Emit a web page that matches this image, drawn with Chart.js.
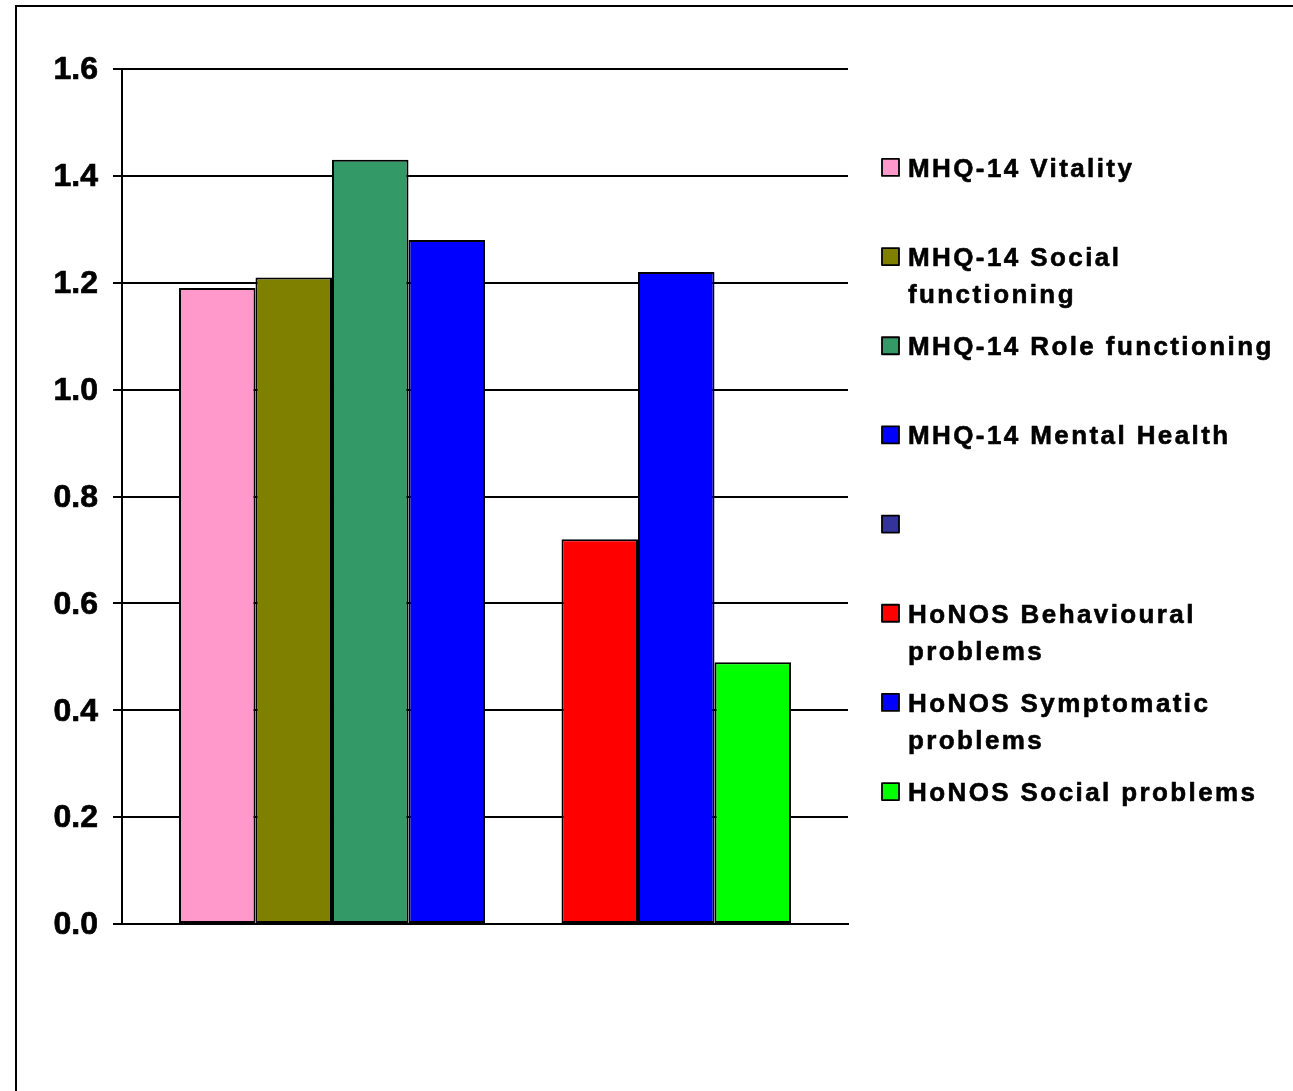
<!DOCTYPE html>
<html>
<head>
<meta charset="utf-8">
<script src="https://cdn.jsdelivr.net/npm/chart.js@4/dist/chart.umd.min.js"></script>
<style>
  html, body { margin: 0; padding: 0; background: #ffffff; }
  canvas { display: block; }
</style>
</head>
<body>
<canvas id="chart" width="1293" height="1091"></canvas>
<script>
// One category, eight series (the fifth series is empty and only holds a slot)
const categories = [''];
const seriesLabels = [
  'MHQ-14 Vitality',
  'MHQ-14 Social\nfunctioning',
  'MHQ-14 Role functioning',
  'MHQ-14 Mental Health',
  '',
  'HoNOS Behavioural\nproblems',
  'HoNOS Symptomatic\nproblems',
  'HoNOS Social problems'
];
const seriesValues = [1.19, 1.21, 1.43, 1.28, null, 0.72, 1.22, 0.49];
const seriesColors = ['#FF99CC', '#808000', '#339966', '#0000FF', '#333399', '#FF0000', '#0000FF', '#00FF00'];
const yTicks = [0, 0.2, 0.4, 0.6, 0.8, 1.0, 1.2, 1.4, 1.6];

const datasets = seriesLabels.map((label, i) => ({
  label: label,
  data: [seriesValues[i]],
  backgroundColor: seriesColors[i],
  borderColor: '#000000',
  borderWidth: 2,
  borderSkipped: false
}));

// Frame around the whole figure
const framePlugin = {
  id: 'frame',
  beforeDraw(chart) {
    const ctx = chart.ctx;
    ctx.save();
    ctx.fillStyle = '#ffffff';
    ctx.fillRect(0, 0, chart.width, chart.height);
    ctx.strokeStyle = '#000000';
    ctx.lineWidth = 2;
    ctx.strokeRect(16, 6, chart.width + 20, chart.height + 20);
    ctx.restore();
  }
};

// Legend listed down the right-hand side, one swatch per series
const sideLegend = {
  id: 'sideLegend',
  afterDraw(chart) {
    const ctx = chart.ctx;
    const x0 = 882, textX = 908, firstY = 167.4, step = 89.17, box = 17, lineGap = 37;
    ctx.save();
    ctx.font = 'bold 26px Arial, "Liberation Sans", sans-serif';
    if ('letterSpacing' in ctx) ctx.letterSpacing = '2.4px';
    ctx.textBaseline = 'alphabetic';
    ctx.textAlign = 'left';
    ctx.lineJoin = 'round';
    chart.data.datasets.forEach((ds, i) => {
      const cy = firstY + step * i;
      ctx.fillStyle = ds.backgroundColor;
      ctx.fillRect(x0, cy - box / 2, box, box);
      ctx.strokeStyle = '#000000';
      ctx.lineWidth = 1.8;
      ctx.strokeRect(x0, cy - box / 2, box, box);
      ctx.fillStyle = '#000000';
      ctx.lineWidth = 0.6;
      String(ds.label).split('\n').forEach((line, k) => {
        const y = cy + 9.3 + k * lineGap;
        ctx.fillText(line, textX, y);
        ctx.strokeText(line, textX, y);
      });
    });
    ctx.restore();
  }
};

new Chart(document.getElementById('chart'), {
  type: 'bar',
  data: { labels: categories, datasets: datasets },
  options: {
    responsive: false,
    animation: false,
    layout: { padding: { left: 0, top: 69, right: 445, bottom: 167 } },
    datasets: { bar: { categoryPercentage: 0.843, barPercentage: 1.0 } },
    plugins: {
      legend: { display: false },
      tooltip: { enabled: false }
    },
    scales: {
      x: {
        grid: { display: false },
        ticks: { display: false },
        border: { display: true, color: '#000000', width: 2 },
        afterFit(scale) { scale.height = 0; }
      },
      y: {
        min: 0,
        max: 1.6,
        afterBuildTicks(scale) { scale.ticks = yTicks.map(v => ({ value: v })); },
        afterFit(scale) { scale.width = 122; },
        grid: { color: '#000000', lineWidth: 2, drawTicks: true, tickLength: 9, tickColor: '#000000' },
        border: { display: true, color: '#000000', width: 2 },
        ticks: {
          color: '#000000',
          padding: 15,
          labelOffset: 1.5,
          textStrokeColor: '#000000',
          textStrokeWidth: 0.7,
          font: { family: 'Arial, "Liberation Sans", sans-serif', size: 32, weight: 'bold' },
          callback: (v) => Number(v).toFixed(1)
        }
      }
    }
  },
  plugins: [framePlugin, sideLegend]
});
</script>
</body>
</html>
